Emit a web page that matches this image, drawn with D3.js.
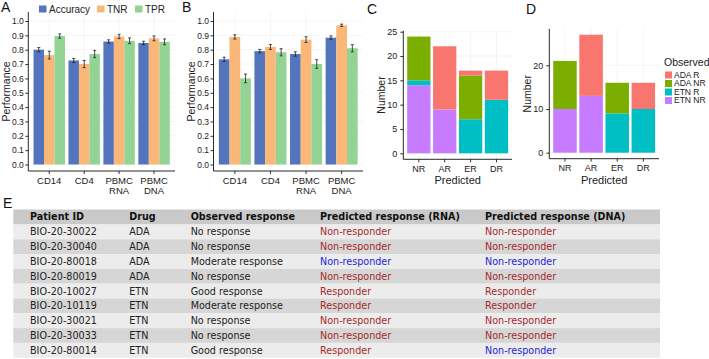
<!DOCTYPE html>
<html><head><meta charset="utf-8">
<script src="https://cdn.jsdelivr.net/npm/d3@7"></script>
<style>
html,body{margin:0;padding:0;background:#fff;}
</style></head>
<body><svg id="c" width="709" height="359" style="font-family:'Liberation Sans',Arial,sans-serif"></svg>
<script>
// ---------- DATA ----------
const metrics = ["Accuracy", "TNR", "TPR"];
const cellTypes = ["CD14", "CD4", "PBMC RNA", "PBMC DNA"];
const perfTicks = [0, 0.1, 0.2, 0.3, 0.4, 0.5, 0.6, 0.7, 0.8, 0.9, 1.0];

const aAccuracy = [0.800, 0.725, 0.857, 0.847];
const aTNR      = [0.762, 0.700, 0.892, 0.879];
const aTPR      = [0.895, 0.770, 0.862, 0.855];
const aAccErr   = [0.015, 0.014, 0.012, 0.012];
const aTNRErr   = [0.027, 0.025, 0.015, 0.017];
const aTPRErr   = [0.015, 0.025, 0.020, 0.020];

const bAccuracy = [0.733, 0.790, 0.770, 0.884];
const bTNR      = [0.889, 0.819, 0.870, 0.970];
const bTPR      = [0.600, 0.782, 0.700, 0.810];
const bAccErr   = [0.015, 0.012, 0.015, 0.012];
const bTNRErr   = [0.015, 0.017, 0.020, 0.008];
const bTPRErr   = [0.030, 0.025, 0.030, 0.025];

const predicted = ["NR", "AR", "ER", "DR"];
const observedGroups = ["ADA R", "ADA NR", "ETN R", "ETN NR"];
const cAdaR  = [0, 13, 1, 6];
const cAdaNR = [9, 0, 9, 0];
const cEtnR  = [1, 0, 7, 11];
const cEtnNR = [14, 9, 0, 0];
const cTicks = [0, 5, 10, 15, 20, 25];
const dAdaR  = [0, 14, 0, 6];
const dAdaNR = [11, 0, 7, 0];
const dEtnR  = [0, 0, 9, 10];
const dEtnNR = [10, 13, 0, 0];
const dTicks = [0, 10, 20];

const tableHeaders = ["Patient ID", "Drug", "Observed response", "Predicted response (RNA)", "Predicted response (DNA)"];
const patientIds = ["BIO-20-30022","BIO-20-30040","BIO-20-80018","BIO-20-80019","BIO-20-10027","BIO-20-10119","BIO-20-30021","BIO-20-30033","BIO-20-80014"];
const drugs = ["ADA","ADA","ADA","ADA","ETN","ETN","ETN","ETN","ETN"];
const observedResp = ["No response","No response","Moderate response","No response","Good response","Moderate response","No response","No response","Good response"];
const predRNA = ["Non-responder","Non-responder","Non-responder","Non-responder","Responder","Responder","Non-responder","Non-responder","Responder"];
const predDNA = ["Non-responder","Non-responder","Non-responder","Non-responder","Responder","Responder","Non-responder","Non-responder","Non-responder"];
const rnaCorrect = [true,true,false,true,true,true,true,true,true];
const dnaCorrect = [true,true,false,true,true,true,true,true,false];

// ---------- STYLE ----------
const metricColor = {"Accuracy":"#5475bd","TNR":"#fbb778","TPR":"#93d393"};
const obsColor = {"ADA R":"#F8766D","ADA NR":"#7CAE00","ETN R":"#00BFC4","ETN NR":"#C77CFF"};
const svg = d3.select("#c");
const txt = "#222";
const SANS = "Liberation Sans, Arial, sans-serif";

function panelLabel(x, y, t){
  svg.append("text").attr("x",x).attr("y",y).attr("font-size",14).attr("font-family",SANS).attr("fill","#111").text(t);
}

function perfPanel(x0, x1, vals, errs, ylabelX){
  const yTop = 12, yBot = 171;
  const y = d3.scaleLinear().domain([0,1]).range([164.5, 21]);
  const x = d3.scaleBand().domain(cellTypes).range([x0, x1]).paddingInner(0.1).paddingOuter(0.15);
  const xs = d3.scaleBand().domain(metrics).range([0, x.bandwidth()]);
  const g = svg.append("g");
  g.selectAll(".gy").data(perfTicks).join("line")
    .attr("x1",x0).attr("x2",x1).attr("y1",d=>y(d)).attr("y2",d=>y(d))
    .attr("stroke","#eeeeee").attr("stroke-width",0.6);
  g.selectAll(".gx").data(cellTypes).join("line")
    .attr("x1",d=>x(d)+x.bandwidth()/2).attr("x2",d=>x(d)+x.bandwidth()/2)
    .attr("y1",yTop).attr("y2",yBot).attr("stroke","#eeeeee").attr("stroke-width",0.6);
  const rows = [];
  cellTypes.forEach((c,i)=>metrics.forEach((m,j)=>rows.push({c, m, v: vals[j][i], e: errs[j][i]})));
  g.selectAll(".bar").data(rows).join("rect")
    .attr("x",d=>x(d.c)+xs(d.m)).attr("width",xs.bandwidth())
    .attr("y",d=>y(d.v)).attr("height",d=>y(0)-y(d.v))
    .attr("fill",d=>metricColor[d.m]);
  const cx = d=>x(d.c)+xs(d.m)+xs.bandwidth()/2;
  g.selectAll(".eb").data(rows).join("line")
    .attr("x1",cx).attr("x2",cx).attr("y1",d=>y(d.v-d.e)).attr("y2",d=>y(d.v+d.e))
    .attr("stroke","#222").attr("stroke-width",0.8);
  ["lo","hi"].forEach(k=>{
    g.selectAll(".cap"+k).data(rows).join("line")
      .attr("x1",d=>cx(d)-1.5).attr("x2",d=>cx(d)+1.5)
      .attr("y1",d=>y(k==="lo"?d.v-d.e:d.v+d.e)).attr("y2",d=>y(k==="lo"?d.v-d.e:d.v+d.e))
      .attr("stroke","#222").attr("stroke-width",0.8);
  });
  const ya = g.append("g").attr("transform",`translate(${x0},0)`)
    .call(d3.axisLeft(y).tickValues(perfTicks).tickFormat(d3.format(".1f")).tickSize(3).tickSizeOuter(0));
  ya.attr("font-family",SANS);
  ya.select(".domain").remove();
  ya.selectAll("text").attr("font-size",8.5).attr("fill",txt).attr("x",-4.5);
  ya.selectAll("line").attr("stroke","#333");
  const xa = g.append("g").attr("transform",`translate(0,${yBot})`)
    .call(d3.axisBottom(x).tickSize(3).tickSizeOuter(0));
  xa.attr("font-family",SANS);
  xa.select(".domain").remove();
  xa.selectAll("line").attr("stroke","#333");
  xa.selectAll("text").each(function(d){
    const t = d3.select(this); t.text(null);
    t.attr("font-size",9.5).attr("fill",txt).attr("y",6.5).attr("dy","0.71em");
    d.split(" ").forEach((w,i)=>t.append("tspan").attr("x",0).attr("dy",i===0?"0.71em":"1.0em").text(w));
  });
  g.append("line").attr("x1",x0).attr("x2",x0).attr("y1",yTop).attr("y2",yBot).attr("stroke","#111").attr("stroke-width",0.9);
  g.append("line").attr("x1",x0).attr("x2",x1).attr("y1",yBot).attr("y2",yBot).attr("stroke","#111").attr("stroke-width",0.9);
  g.append("text").attr("transform",`translate(${ylabelX},${(yTop+yBot)/2}) rotate(-90)`)
    .attr("text-anchor","middle").attr("font-size",10.5).attr("font-family",SANS).attr("fill",txt).text("Performance");
}

perfPanel(28.3, 175, [aAccuracy, aTNR, aTPR], [aAccErr, aTNRErr, aTPRErr], 10);
perfPanel(213.5, 363, [bAccuracy, bTNR, bTPR], [bAccErr, bTNRErr, bTPRErr], 195);
panelLabel(1, 12, "A");
panelLabel(182, 12, "B");

const legX = [39, 97, 135];
metrics.forEach((m,i)=>{
  svg.append("rect").attr("x",legX[i]).attr("y",5.5).attr("width",7.5).attr("height",7).attr("fill",metricColor[m]);
  svg.append("text").attr("x",legX[i]+10).attr("y",12.5).attr("font-size",10).attr("font-family",SANS).attr("fill",txt).text(m);
});

function countPanel(x0, x1, yZeroPx, yTopVal, yTopPx, axTop, axBot, ticks, series, ylabelX){
  const y = d3.scaleLinear().domain([0, yTopVal]).range([yZeroPx, yTopPx]);
  const x = d3.scaleBand().domain(predicted).range([x0, x1]).paddingInner(0.1).paddingOuter(0.15);
  const g = svg.append("g");
  g.selectAll(".gy").data(ticks).join("line")
    .attr("x1",x0).attr("x2",x1).attr("y1",d=>y(d)).attr("y2",d=>y(d))
    .attr("stroke","#eeeeee").attr("stroke-width",0.6);
  g.selectAll(".gx").data(predicted).join("line")
    .attr("x1",d=>x(d)+x.bandwidth()/2).attr("x2",d=>x(d)+x.bandwidth()/2)
    .attr("y1",axTop).attr("y2",axBot).attr("stroke","#eeeeee").attr("stroke-width",0.6);
  const order = ["ETN NR","ETN R","ADA NR","ADA R"];
  const table = predicted.map((p,i)=>{ const o = {p}; observedGroups.forEach(k=>o[k]=series[k][i]); return o; });
  const stacked = d3.stack().keys(order)(table);
  stacked.forEach(s=>{
    g.selectAll(null).data(s.filter(d=>d[1]>d[0])).join("rect")
      .attr("x",d=>x(d.data.p)).attr("width",x.bandwidth())
      .attr("y",d=>y(d[1])).attr("height",d=>y(d[0])-y(d[1]))
      .attr("fill",obsColor[s.key]);
  });
  const ya = g.append("g").attr("transform",`translate(${x0},0)`)
    .call(d3.axisLeft(y).tickValues(ticks).tickSize(3).tickSizeOuter(0));
  ya.attr("font-family",SANS);
  ya.select(".domain").remove();
  ya.selectAll("text").attr("font-size",9).attr("fill",txt);
  ya.selectAll("line").attr("stroke","#333");
  const xa = g.append("g").attr("transform",`translate(0,${axBot})`)
    .call(d3.axisBottom(x).tickSize(3).tickSizeOuter(0));
  xa.attr("font-family",SANS);
  xa.select(".domain").remove();
  xa.selectAll("line").attr("stroke","#333");
  xa.selectAll("text").attr("font-size",9).attr("fill",txt).attr("y",6);
  g.append("line").attr("x1",x0).attr("x2",x0).attr("y1",axTop).attr("y2",axBot).attr("stroke","#111").attr("stroke-width",0.9);
  g.append("line").attr("x1",x0).attr("x2",x1).attr("y1",axBot).attr("y2",axBot).attr("stroke","#111").attr("stroke-width",0.9);
  g.append("text").attr("transform",`translate(${ylabelX},${(axTop+axBot)/2}) rotate(-90)`)
    .attr("text-anchor","middle").attr("font-size",10.5).attr("font-family",SANS).attr("fill",txt).text("Number");
  g.append("text").attr("x",(x0+x1)/2).attr("y",184).attr("text-anchor","middle")
    .attr("font-size",11).attr("font-family",SANS).attr("fill",txt).text("Predicted");
}

countPanel(403.3, 512, 153.3, 25, 31.7, 30.7, 159.3, cTicks,
  {"ADA R":cAdaR,"ADA NR":cAdaNR,"ETN R":cEtnR,"ETN NR":cEtnNR}, 385);
countPanel(549.3, 659, 152.7, 20, 65.3, 28.8, 158.7, dTicks,
  {"ADA R":dAdaR,"ADA NR":dAdaNR,"ETN R":dEtnR,"ETN NR":dEtnNR}, 531);
panelLabel(367, 14, "C");
panelLabel(526, 14, "D");

// legend D
svg.append("text").attr("x",664).attr("y",66).attr("font-size",10.5).attr("font-family",SANS).attr("fill",txt).text("Observed");
observedGroups.forEach((k,i)=>{
  svg.append("rect").attr("x",665).attr("y",71.5+i*8.5).attr("width",7).attr("height",7).attr("fill",obsColor[k]);
  svg.append("text").attr("x",674).attr("y",75+i*8.5).attr("dy","0.35em").attr("font-size",8.5).attr("font-family",SANS).attr("fill",txt).text(k);
});

// ---------- TABLE E ----------
panelLabel(3, 208, "E");
const TFONT = "DejaVu Sans, sans-serif";
const tX0 = 13.3, tX1 = 660, headTop = 209.5, headH = 15, rowH = 14.8;
const colX = [30, 129.3, 190.7, 320, 485];
const tg = svg.append("g");
tg.append("rect").attr("x",tX0).attr("y",headTop).attr("width",tX1-tX0).attr("height",headH).attr("fill","#c9c9c9");
tg.selectAll(".th").data(tableHeaders).join("text")
  .attr("x",(d,i)=>colX[i]).attr("y",headTop+headH/2).attr("dy","0.36em")
  .attr("font-size",9.6).attr("font-weight","bold").attr("fill","#111")
  .attr("font-family",TFONT).text(d=>d);
const rowsData = patientIds.map((id,i)=>({i, cells:[
  {t:id, c:"#222"}, {t:drugs[i], c:"#222"}, {t:observedResp[i], c:"#222"},
  {t:predRNA[i], c: rnaCorrect[i] ? "#a52a2a" : "#1f1fd8"},
  {t:predDNA[i], c: dnaCorrect[i] ? "#a52a2a" : "#1f1fd8"}]}));
const rg = tg.selectAll(".row").data(rowsData).join("g")
  .attr("transform",d=>`translate(0,${headTop+headH+d.i*rowH})`);
rg.append("rect").attr("x",tX0).attr("width",tX1-tX0).attr("height",rowH)
  .attr("fill",d=>d.i%2===0?"#ececec":"#d6d6d6");
rg.selectAll("text").data(d=>d.cells).join("text")
  .attr("x",(d,j)=>colX[j]).attr("y",rowH/2).attr("dy","0.36em")
  .attr("font-size",9.6).attr("fill",d=>d.c).attr("font-family",TFONT).text(d=>d.t);
</script></body></html>
